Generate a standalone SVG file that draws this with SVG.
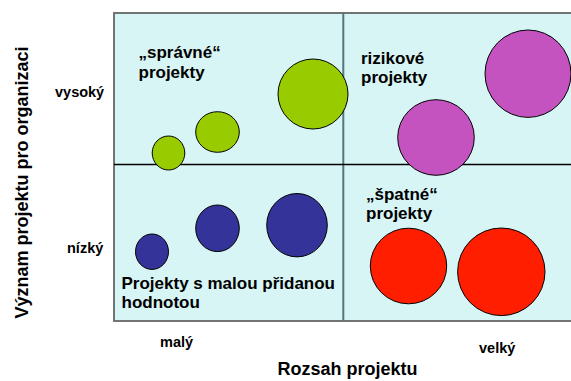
<svg xmlns="http://www.w3.org/2000/svg" width="571" height="381" viewBox="0 0 571 381">
<style>
text{font-family:"Liberation Sans",Arial,sans-serif;font-weight:bold;fill:#000}
.q{font-size:17px}
.ax{font-size:14.5px}
.t{font-size:18px}
.b{stroke:#000;stroke-width:1}
.g{fill:#99cc00}
.m{fill:#c453bf}
.bl{fill:#333399}
.r{fill:#ff1f00}
</style>
<rect width="571" height="381" fill="#fff"/>
<g id="chart">
<rect x="114" y="13" width="460" height="308" fill="#d8f5f5" stroke="#666" stroke-width="1.8"/>
</g>
<g id="connectors">
<line x1="343.3" y1="13" x2="343.3" y2="321" stroke="#56767c" stroke-width="2"/>
<line x1="114" y1="164.5" x2="571" y2="164.5" stroke="#000" stroke-width="1.5"/>
</g>
<g id="green-small"><ellipse class="b g" cx="168.5" cy="153" rx="16.3" ry="17"/></g>
<g id="green-mid"><ellipse class="b g" cx="217.5" cy="132" rx="21.8" ry="20.3"/></g>
<g id="green-large"><ellipse class="b g" cx="313" cy="94" rx="35" ry="35"/></g>
<g id="magenta-mid"><ellipse class="b m" cx="436" cy="137.5" rx="38.3" ry="37.8"/></g>
<g id="magenta-large"><ellipse class="b m" cx="528" cy="73.7" rx="43" ry="43.7"/></g>
<g id="blue-small"><ellipse class="b bl" cx="152" cy="251.7" rx="16.5" ry="17.7"/></g>
<g id="blue-mid"><ellipse class="b bl" cx="217.5" cy="228.3" rx="21.8" ry="23.3"/></g>
<g id="blue-large"><ellipse class="b bl" cx="297" cy="225.2" rx="30.3" ry="31.7"/></g>
<g id="red-1"><ellipse class="b r" cx="408.5" cy="266" rx="38.2" ry="37.8"/></g>
<g id="red-2"><ellipse class="b r" cx="501.3" cy="271.8" rx="43.7" ry="43.8"/></g>
<g id="labels">
<text class="q" x="138.5" y="58.3">„správné“</text>
<text class="q" x="138.5" y="77.5">projekty</text>
<text class="q" x="361" y="63.5">rizikové</text>
<text class="q" x="361" y="83">projekty</text>
<text class="q" x="366" y="199.5">„špatné“</text>
<text class="q" x="366" y="219">projekty</text>
<text class="q" x="121.5" y="289">Projekty s malou přidanou</text>
<text class="q" x="121.5" y="308">hodnotou</text>
<text class="ax" x="55" y="97">vysoký</text>
<text class="ax" x="67" y="253">nízký</text>
<text class="ax" x="160" y="347">malý</text>
<text class="ax" x="479" y="353">velký</text>
<text class="t" x="347.5" y="375" text-anchor="middle">Rozsah projektu</text>
<text class="t" transform="translate(28,182.5) rotate(-90)" text-anchor="middle">Význam projektu pro organizaci</text>
</g>
</svg>
